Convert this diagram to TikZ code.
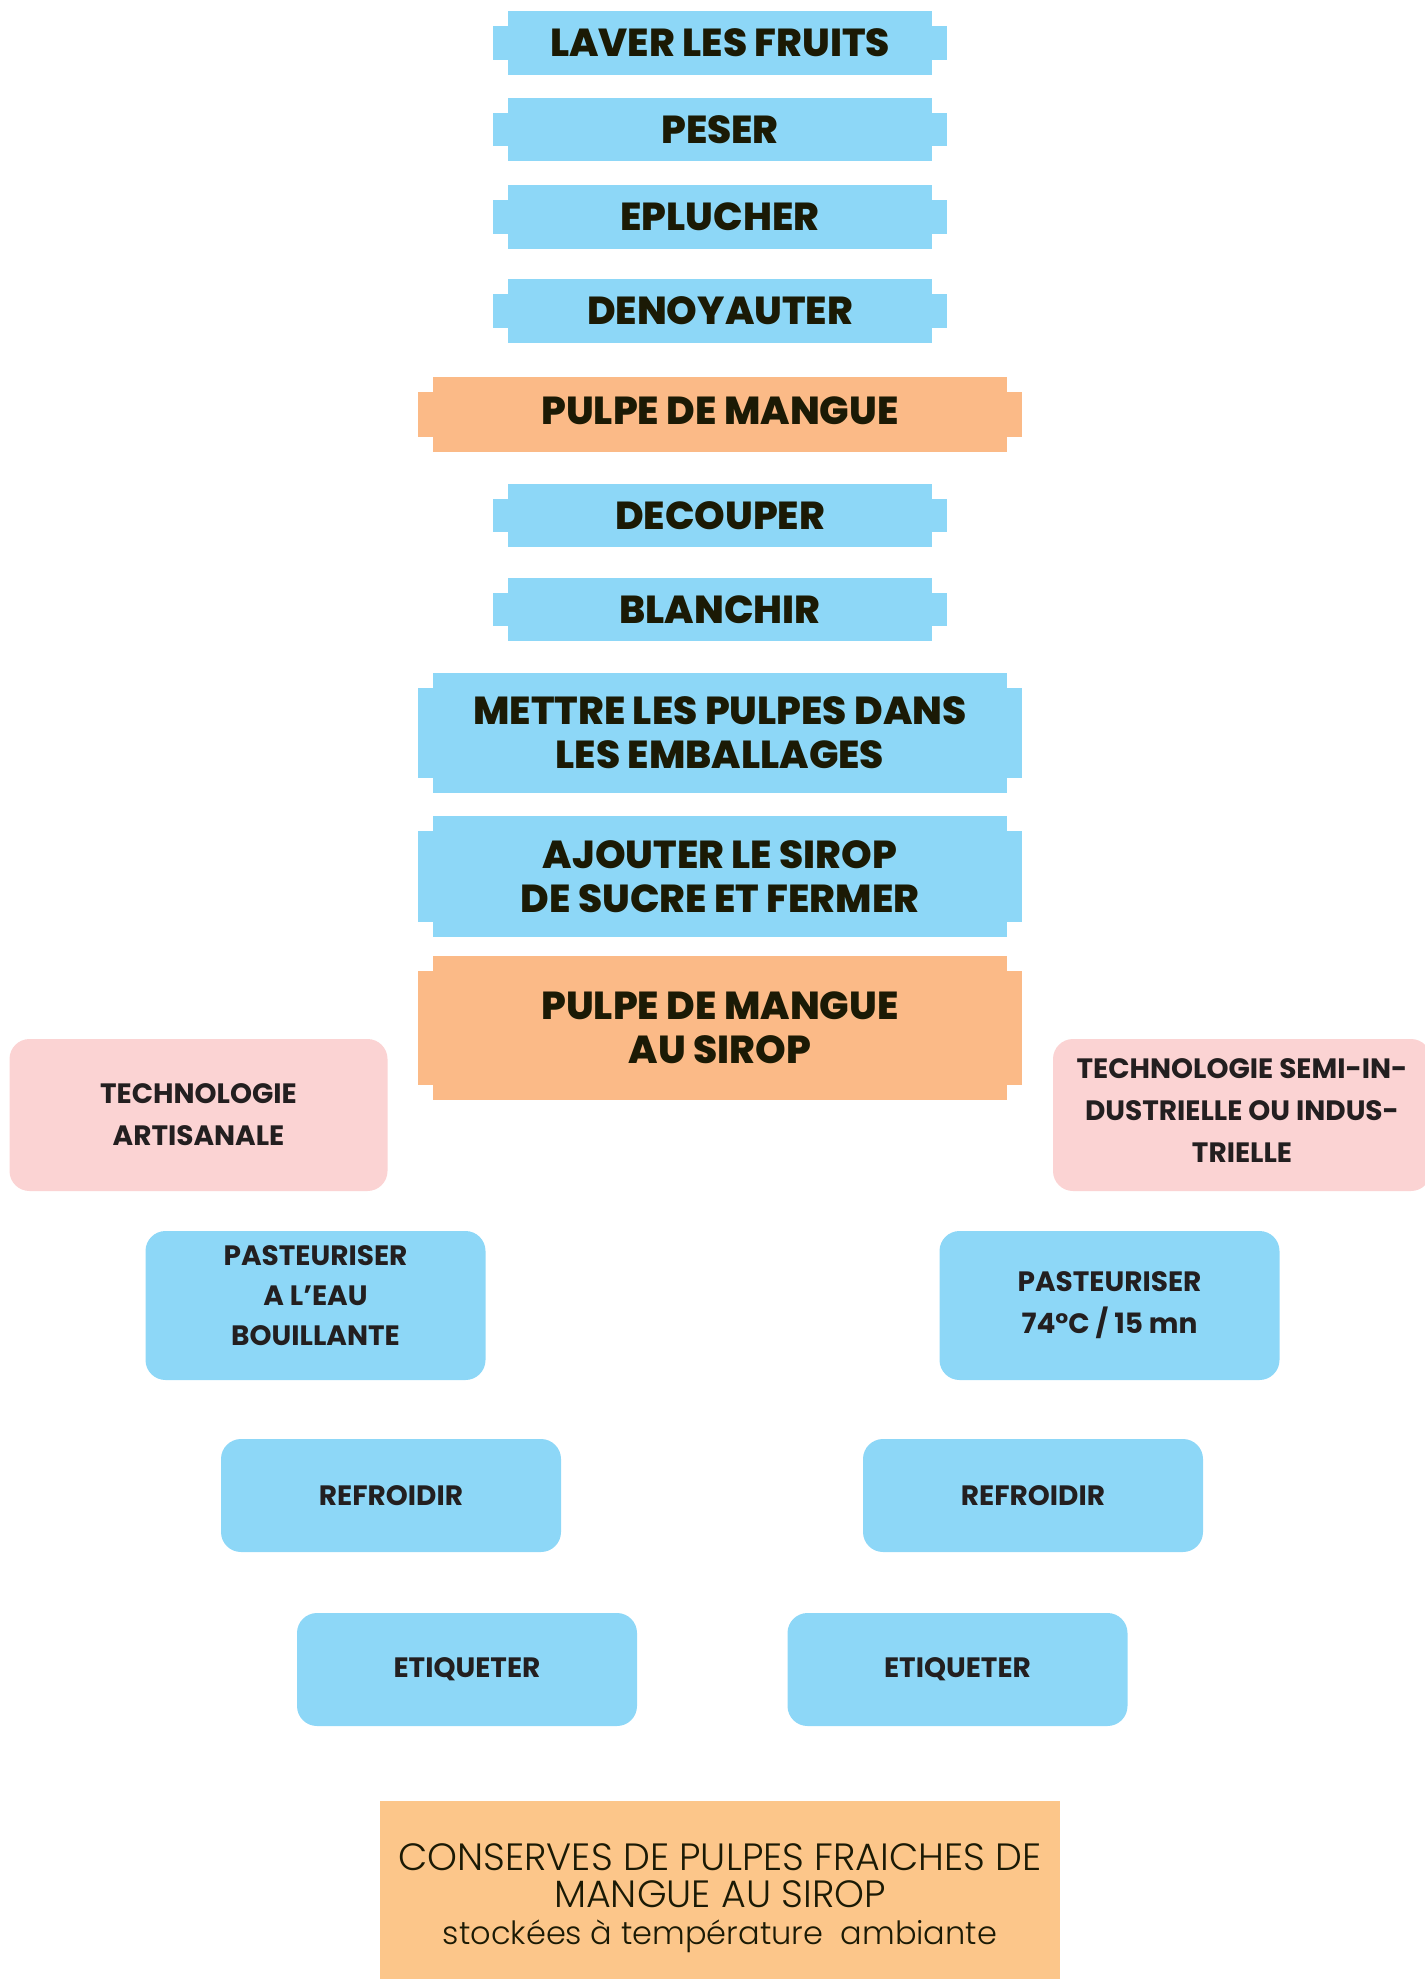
\documentclass[tikz,border=0pt]{standalone}
\usepackage{fontspec}
\setmainfont{Poppins}
\IfFontExistsTF{Poppins ExtraBold}{\newfontfamily\heavyfont{Poppins ExtraBold}}{\newfontfamily\heavyfont{Poppins}[FakeBold=1.5]}
\IfFontExistsTF{Poppins Bold}{\newfontfamily\semibfont{Poppins Bold}}{\newfontfamily\semibfont{Poppins}[FakeBold=1]}
\IfFontExistsTF{Poppins Light}{\newfontfamily\lightfont{Poppins Light}}{\newfontfamily\lightfont{Poppins}}
\usetikzlibrary{backgrounds,calc}
\definecolor{stepblue}{HTML}{8DD7F7}
\definecolor{mango}{HTML}{FBBA87}
\definecolor{techpink}{HTML}{FBD3D3}
\definecolor{conserve}{HTML}{FCC68A}
\definecolor{inkdark}{HTML}{1B1A05}
\definecolor{inkgrey}{HTML}{231F20}
\tikzset{
  stepbox/.style={inner sep=0pt, minimum width=227pt, minimum height=#1, align=center,
    text=inkdark, font=\fontsize{19.5}{22}\heavyfont},
  widebox/.style={stepbox=#1, minimum width=302pt},
  roundbox/.style={rounded corners=10pt, fill=stepblue, inner sep=0pt, minimum width=170pt,
    minimum height=#1, align=center, text=inkgrey, font=\fontsize{14}{21}\semibfont},
  techbox/.style={roundbox=#1, fill=techpink, minimum width=189pt},
  finalbox/.style={fill=conserve, inner sep=0pt, minimum width=340pt, minimum height=89pt},
  finaltext/.style={inner sep=0pt, align=center, text=inkdark, font=\fontsize{19}{18.5}\lightfont}
}
\begin{document}
\begin{tikzpicture}[x=0.5pt,y=-0.5pt]
\useasboundingbox (0,0) rectangle (1424,1979);
% notched step boxes (text nodes; shapes filled on background)
\node[stepbox=32pt]    (laver)    at (720,43)    {LAVER LES FRUITS};
\node[stepbox=31.5pt]  (peser)    at (720,129.5) {PESER};
\node[stepbox=32pt]    (eplucher) at (720,217)   {EPLUCHER};
\node[stepbox=32pt]    (denoyau)  at (720,311)   {DENOYAUTER};
\node[widebox=37.5pt, text depth=4pt] (pulpe) at (720,414.5) {PULPE DE MANGUE};
\node[stepbox=31.5pt]  (decouper) at (720,515.5) {DECOUPER};
\node[stepbox=31.5pt]  (blanchir) at (720,609.5) {BLANCHIR};
\node[widebox=60pt]    (mettre)   at (720,733)   {METTRE LES PULPES DANS\\LES EMBALLAGES};
\node[widebox=60.5pt]  (ajouter)  at (720,876.5) {AJOUTER LE SIROP\\DE SUCRE ET FERMER};
\node[widebox=72pt]    (sirop)    at (720,1028)  {PULPE DE MANGUE\\AU SIROP};
\begin{pgfonlayer}{background}
\foreach \n/\c in {laver/stepblue, peser/stepblue, eplucher/stepblue, denoyau/stepblue,
    pulpe/mango, decouper/stepblue, blanchir/stepblue, mettre/stepblue, ajouter/stepblue, sirop/mango}{
  \fill[\c] ($(\n.north west)+(15,0)$) rectangle ($(\n.south east)+(-15,0)$);
  \fill[\c] ($(\n.north west)+(0,15)$) rectangle ($(\n.south east)+(0,-15)$);
}
\end{pgfonlayer}
% two technologies
\node[techbox=76pt] (techA) at (198.5,1115) {TECHNOLOGIE\\ARTISANALE};
\node[techbox=76pt, text depth=4pt] (techS) at (1242,1115)  {TECHNOLOGIE SEMI-IN-\\DUSTRIELLE OU INDUS-\\TRIELLE};
\node[roundbox=74.5pt, font=\fontsize{14}{20}\semibfont, text depth=10pt] (pastA) at (315.5,1305.5)  {PASTEURISER\\A L’EAU\\BOUILLANTE};
\node[roundbox=74.5pt] (pastS) at (1109.5,1305.5) {PASTEURISER\\74°C / 15 mn};
\node[roundbox=56.5pt] (refA)  at (391,1495.5)   {REFROIDIR};
\node[roundbox=56.5pt] (refS)  at (1033,1495.5)  {REFROIDIR};
\node[roundbox=56.5pt] (etiqA) at (467,1669.5)   {ETIQUETER};
\node[roundbox=56.5pt] (etiqS) at (957.5,1669.5) {ETIQUETER};
% final product
\node[finalbox] (final) at (720,1890) {};
\node[finaltext, anchor=north] (finaltxt) at (720,1843)
  {CONSERVES DE PULPES FRAICHES DE\\MANGUE AU SIROP\\{\fontsize{16}{18.5}\selectfont stockées à température\ \ ambiante}};
\end{tikzpicture}
\end{document}
